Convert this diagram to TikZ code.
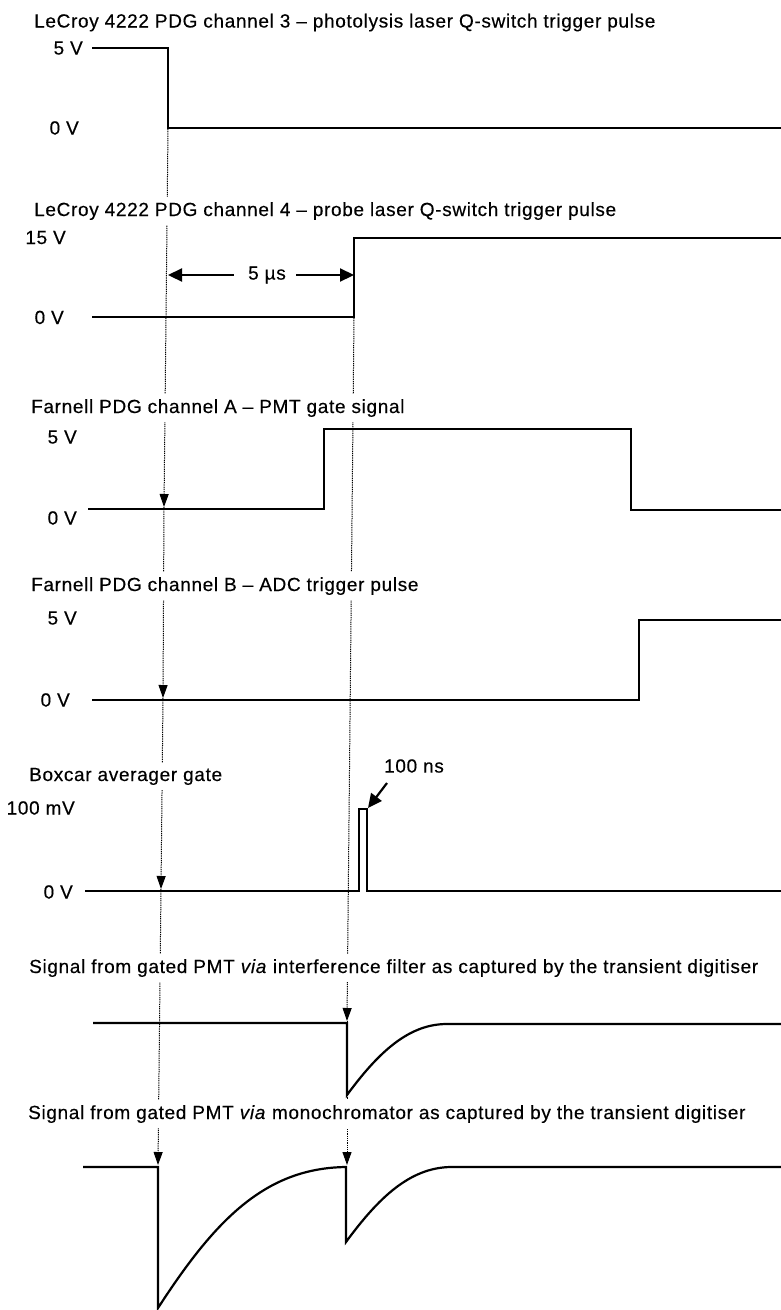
\documentclass[tikz,border=0pt]{standalone}
\usepackage{fontspec}
\setmainfont{Liberation Sans}[LetterSpace=3.5,FakeBold=0.35]
\usetikzlibrary{arrows.meta}
\begin{document}
\begin{tikzpicture}[x=1pt,y=-1pt,
  sig/.style={line width=2.2pt, line join=miter},
  dotl/.style={line width=1pt, dash pattern=on 1pt off 0.8pt},
  dtip/.style={-{Triangle[length=13pt,width=9pt]}},
  harrow/.style={line width=2.2pt,-{Triangle[length=14pt,width=13pt]}},
  ttl/.style={anchor=base west, font=\fontsize{19}{21}\selectfont, fill=white, inner xsep=1pt, inner ysep=5pt},
  vlab/.style={anchor=base east, font=\fontsize{19}{21}\selectfont, inner sep=0pt},
  plain/.style={font=\fontsize{19}{21}\selectfont, inner sep=0pt},
]
\useasboundingbox (0,0) rectangle (781,1310);

% ---- dotted timing lines ----
\coordinate (L0) at (168,129);
\coordinate (L1) at (164,507);
\coordinate (L2) at (163,698);
\coordinate (L3) at (161,889);
\coordinate (L4) at (158,1165);
\coordinate (R0) at (354,318);
\coordinate (R1) at (347,1021);
\coordinate (R2) at (347,1165);
\draw[dotl,dtip] (L0) -- (L1);
\draw[dotl,dtip] (L1) -- (L2);
\draw[dotl,dtip] (L2) -- (L3);
\draw[dotl,dtip] (L3) -- (L4);
\draw[dotl,dtip] (R0) -- (R1);
\draw[dotl,dtip] (R1) -- (R2);

% ---- titles ----
\node[ttl] (t1) at (33,27.5) {LeCroy 4222 PDG channel 3 -- photolysis laser Q-switch trigger pulse};
\node[ttl] (t2) at (33,216) {LeCroy 4222 PDG channel 4 -- probe laser Q-switch trigger pulse};
\node[ttl] (t3) at (30,413) {Farnell PDG channel A -- PMT gate signal};
\node[ttl] (t4) at (30,591) {Farnell PDG channel B -- ADC trigger pulse};
\node[ttl] (t5) at (28,781) {Boxcar averager gate};
\node[ttl] (t6) at (28,973) {Signal from gated PMT \textit{via} interference filter as captured by the transient digitiser};
\node[ttl] (t7) at (27,1119) {Signal from gated PMT \textit{via} monochromator as captured by the transient digitiser};

% ---- level labels ----
\node[vlab] (v1h) at (83,54.5) {5 V};
\node[vlab] (v1l) at (79,134.5) {0 V};
\node[vlab] (v2h) at (66,244) {15 V};
\node[vlab] (v2l) at (64,324) {0 V};
\node[vlab] (v3h) at (77,443.5) {5 V};
\node[vlab] (v3l) at (77,524.5) {0 V};
\node[vlab] (v4h) at (77,624.5) {5 V};
\node[vlab] (v4l) at (70,706.5) {0 V};
\node[vlab] (v5h) at (75,814.5) {100 mV};
\node[vlab] (v5l) at (73,898.5) {0 V};

% ---- traces ----
\draw[sig] (92,48) -- (168,48) -- (168,128) -- (781,128);
\draw[sig] (92,317) -- (354,317) -- (354,238) -- (781,238);
\draw[sig] (88,509) -- (324,509) -- (324,429) -- (631,429) -- (631,510) -- (781,510);
\draw[sig] (92,700) -- (639,700) -- (639,620) -- (781,620);
\draw[sig] (85,891) -- (359,891) -- (359,809) -- (367,809) -- (367,891) -- (781,891);
\draw[sig] (93,1023) -- (347,1023) -- (347,1095)
  .. controls (380,1050) and (410,1024) .. (447,1024) -- (781,1024);
\draw[sig] (83,1167) -- (158,1167) -- (158,1308)
  .. controls (215,1220) and (265,1168) .. (346,1167) -- (346,1242)
  .. controls (379,1197) and (410,1168) .. (450,1167) -- (781,1167);

% ---- 5 us interval ----
\node[plain] (mu) at (267,275) {5 µs};
\coordinate (muA) at (168,275);
\coordinate (muB) at (354,275);
\draw[harrow] (mu.west) ++(-14,0) -- (muA);
\draw[harrow] (mu.east) ++(10,0) -- (muB);

% ---- 100 ns ----
\node[plain] (ns) at (414,766) {100 ns};
\coordinate (nsA) at (387,783);
\coordinate (nsB) at (368,808);
\draw[harrow] (nsA) -- (nsB);
\end{tikzpicture}
\end{document}
